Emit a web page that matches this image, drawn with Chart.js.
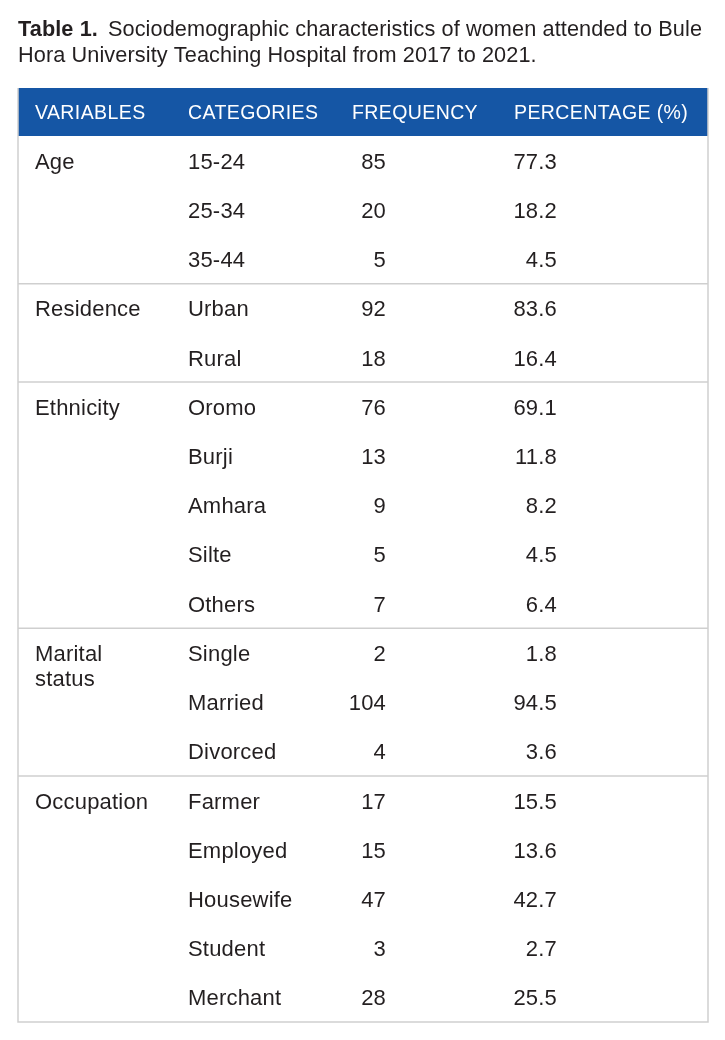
<!DOCTYPE html>
<html>
<head>
<meta charset="utf-8">
<script src="https://cdn.jsdelivr.net/npm/chart.js@4.4.1/dist/chart.umd.min.js"></script>
<style>
  html, body { margin: 0; padding: 0; background: #ffffff; }
  #wrap { position: relative; width: 725px; height: 1040px; }
</style>
</head>
<body>
<div id="wrap"><canvas id="myChart"></canvas></div>
<script>
// table data
var titleBold = 'Table 1.';
var titleLines = ['Sociodemographic characteristics of women attended to Bule',
                  'Hora University Teaching Hospital from 2017 to 2021.'];
var headers = ['VARIABLES', 'CATEGORIES', 'FREQUENCY', 'PERCENTAGE (%)'];
var variables = ['Age', 'Residence', 'Ethnicity', 'Marital\nstatus', 'Occupation'];
var groupSizes = [3, 2, 5, 3, 5];
var categories = ['15-24', '25-34', '35-44', 'Urban', 'Rural', 'Oromo', 'Burji', 'Amhara', 'Silte', 'Others',
                  'Single', 'Married', 'Divorced', 'Farmer', 'Employed', 'Housewife', 'Student', 'Merchant'];
var frequency = [85, 20, 5, 92, 18, 76, 13, 9, 5, 7, 2, 104, 4, 17, 15, 47, 3, 28];
var percentage = [77.3, 18.2, 4.5, 83.6, 16.4, 69.1, 11.8, 8.2, 4.5, 6.4, 1.8, 94.5, 3.6, 15.5, 13.6, 42.7, 2.7, 25.5];

var FONT = '"Liberation Sans", Arial, Helvetica, sans-serif';
var textColor = '#231f20';
var headerBlue = '#1556a5';
var lineColor = '#cfcfcf';

// column layout
var colX = { variable: 35, category: 188, freqRight: 386, pctRight: 557 };
var headerX = [35, 188, 352, 514];

var tablePlugin = {
  id: 'tableDraw',
  afterDraw: function(chart) {
    var ctx = chart.ctx;
    var area = chart.chartArea;
    var y = chart.scales.y;
    var half = (y.getPixelForValue(1) - y.getPixelForValue(0)) / 2;
    var headTop = area.top - 48;
    ctx.save();

    // title
    ctx.letterSpacing = '0.1px';
    ctx.fillStyle = textColor;
    ctx.textAlign = 'left';
    ctx.textBaseline = 'alphabetic';
    ctx.font = 'bold 21.7px ' + FONT;
    ctx.fillText(titleBold, 18, 36);
    var w = ctx.measureText(titleBold).width;
    ctx.font = '21.7px ' + FONT;
    ctx.fillText(titleLines[0], 18 + w + 10, 36);
    ctx.fillText(titleLines[1], 18, 62);

    // header band
    ctx.letterSpacing = '0.4px';
    ctx.fillStyle = headerBlue;
    ctx.fillRect(area.left, headTop, area.right - area.left, area.top - headTop);
    ctx.fillStyle = '#ffffff';
    ctx.font = '19.5px ' + FONT;
    headers.forEach(function(h, i) {
      ctx.fillText(h, headerX[i], area.top - 17);
    });

    // border
    ctx.strokeStyle = lineColor;
    ctx.lineWidth = 1.5;
    ctx.beginPath();
    ctx.moveTo(area.left, headTop);
    ctx.lineTo(area.left, area.bottom);
    ctx.lineTo(area.right, area.bottom);
    ctx.lineTo(area.right, headTop);
    ctx.stroke();

    // rows
    ctx.letterSpacing = '0.2px';
    ctx.font = '22px ' + FONT;
    ctx.fillStyle = textColor;
    var row = 0;
    variables.forEach(function(v, g) {
      var cy = y.getPixelForValue(row);
      v.split('\n').forEach(function(line, k) {
        ctx.textAlign = 'left';
        ctx.fillText(line, colX.variable, cy + 8 + k * 25);
      });
      for (var r = row; r < row + groupSizes[g]; r++) {
        var ry = y.getPixelForValue(r) + 8;
        ctx.textAlign = 'left';
        ctx.fillText(categories[r], colX.category, ry);
        ctx.textAlign = 'right';
        ctx.fillText(String(chart.data.datasets[0].data[r]), colX.freqRight, ry);
        ctx.fillText(percentage[r].toFixed(1), colX.pctRight, ry);
      }
      row += groupSizes[g];
      if (row < categories.length) {
        var sep = y.getPixelForValue(row) - half;
        ctx.beginPath();
        ctx.moveTo(area.left, sep);
        ctx.lineTo(area.right, sep);
        ctx.stroke();
      }
    });
    ctx.restore();
  }
};

var ctx = document.getElementById('myChart').getContext('2d');
var myChart = new Chart(ctx, {
  type: 'bar',
  data: {
    labels: categories,
    datasets: [{
      label: 'Frequency',
      data: frequency,
      backgroundColor: 'rgba(0,0,0,0)',
      borderWidth: 0
    }]
  },
  options: {
    indexAxis: 'y',
    responsive: true,
    maintainAspectRatio: false,
    animation: false,
    layout: { padding: { left: 18, right: 17, top: 136, bottom: 18 } },
    plugins: {
      legend: { display: false },
      tooltip: { enabled: false },
      title: { display: false }
    },
    scales: {
      x: { display: false, min: 0, max: 120 },
      y: { display: false, offset: true }
    }
  },
  plugins: [tablePlugin]
});
</script>
</body>
</html>
